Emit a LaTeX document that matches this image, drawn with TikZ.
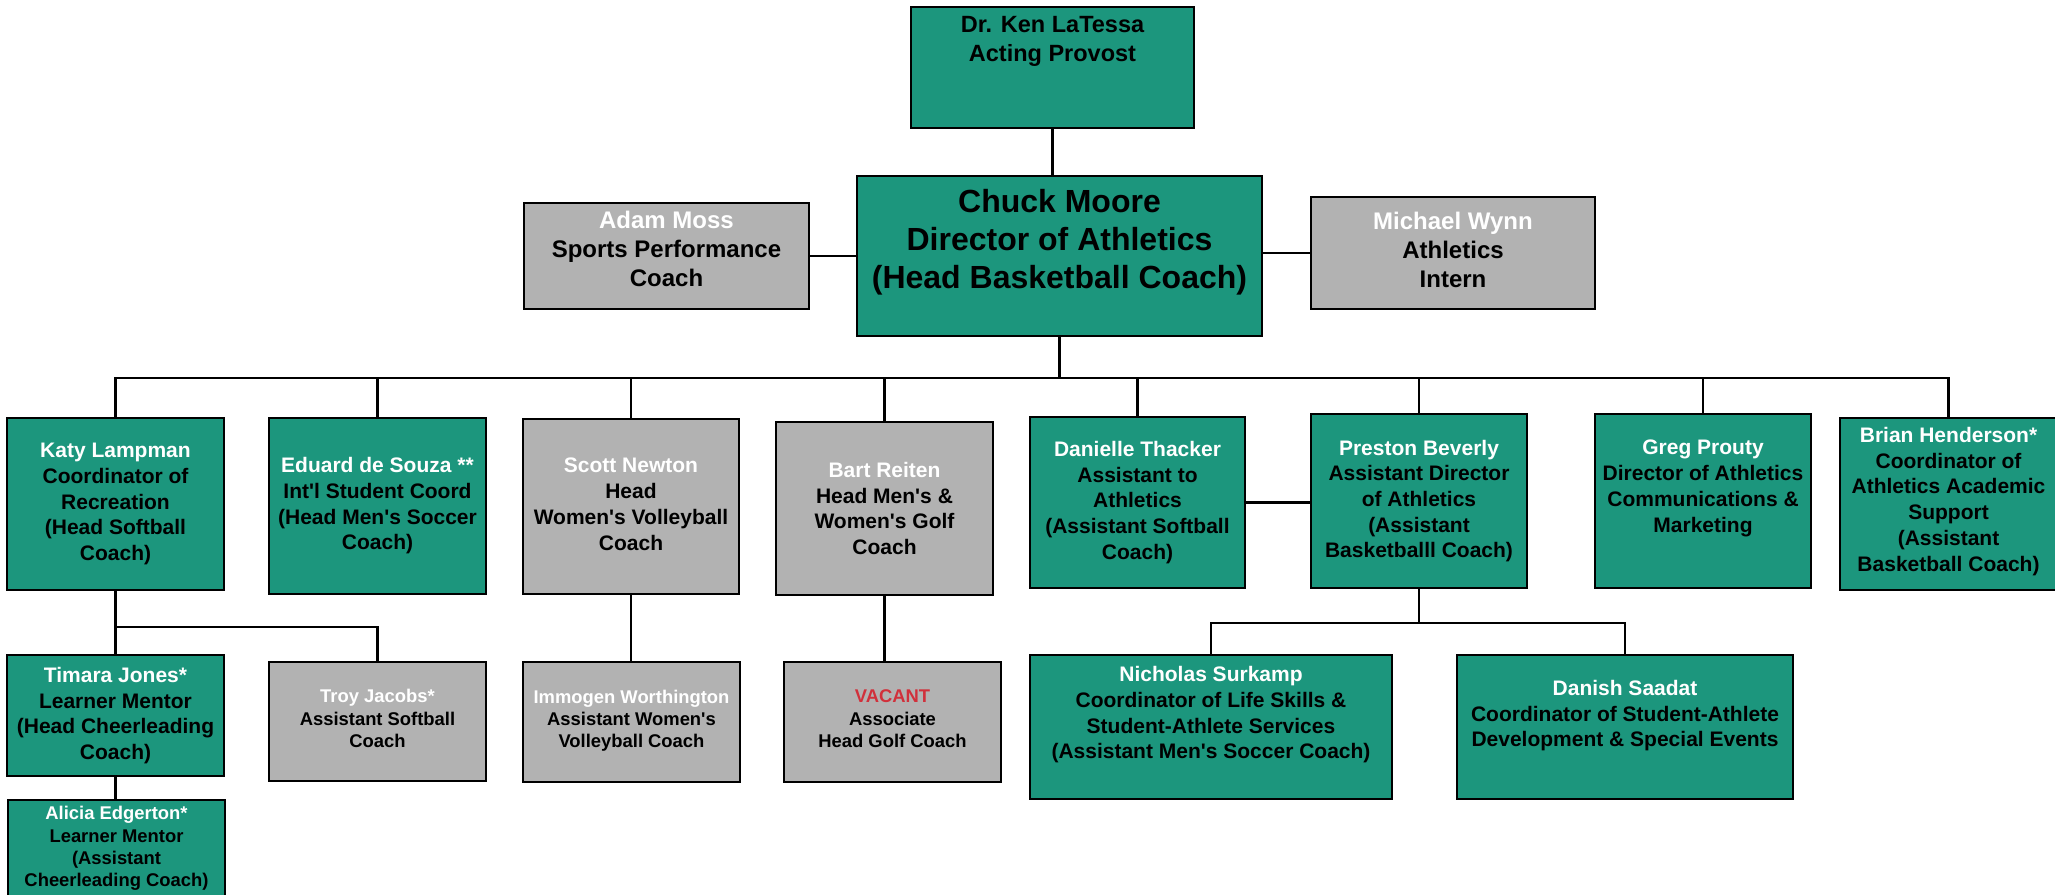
\documentclass[tikz,border=0pt]{standalone}
\usepackage{fontspec}
\setmainfont{Liberation Sans}[Ligatures=TeXOff]
\usetikzlibrary{positioning}
\definecolor{tealbox}{HTML}{1C967D}
\definecolor{greybox}{HTML}{B2B2B2}
\definecolor{vacred}{HTML}{D1303B}
\newcommand{\nm}[1]{\textcolor{white}{#1}}
\newcommand{\lift}[1]{\\[#1]\mbox{}}

\begin{document}
\begin{tikzpicture}[x=1pt, y=-1pt,
	box/.style={rectangle, draw=black, line width=2.6pt, align=center, inner sep=1pt, font=\bfseries\fontsize{21}{25.7}\selectfont},
	gbox/.style={box, fill=tealbox},
	sbox/.style={box, fill=greybox},
	dims/.style 2 args={minimum width=#1, minimum height=#2},
	fbig/.style={font=\bfseries\fontsize{32}{38}\selectfont},
	ftop/.style={font=\bfseries\fontsize{23.5}{29}\selectfont},
	fside/.style={font=\bfseries\fontsize{24}{29}\selectfont},
	fsmall/.style={font=\bfseries\fontsize{18.4}{22.3}\selectfont},
	conn/.style={draw=black, line width=2.2pt}]
\useasboundingbox (0,0) rectangle (2055,894);

\node[gbox, ftop, dims={283}{121}] (ken) at (1052.5,67.5) {Dr. Ken LaTessa\\Acting Provost\lift{29pt}};
\node[gbox, fbig, dims={405}{160}] (chuck) at (1059.5,256) {Chuck Moore\\Director of Athletics\\(Head Basketball Coach)\lift{-3pt}};
\node[sbox, fside, dims={285}{106}] (adam) at (666.5,256) {\nm{Adam Moss}\\Sports Performance\\Coach\lift{-15pt}};
\node[sbox, fside, dims={284}{112}] (michael) at (1453,253) {\nm{Michael Wynn}\\Athletics\\Intern\lift{-23pt}};

\node[gbox, dims={217}{172}] (katy) at (115.5,504) {\nm{Katy Lampman}\\Coordinator of\\Recreation\\(Head Softball\\Coach)};
\node[gbox, dims={217}{176}] (eduard) at (377.5,506) {\nm{Eduard de Souza **}\\Int'l Student Coord\\(Head Men's Soccer\\Coach)};
\node[sbox, dims={216}{175}] (scott) at (631,506.5) {\nm{Scott Newton}\\Head\\Women's Volleyball\\Coach\lift{-21pt}};
\node[sbox, dims={217}{173}] (bart) at (884.5,508.5) {\nm{Bart Reiten}\\Head Men's \&\\Women's Golf\\Coach};
\node[gbox, dims={215}{171}] (danielle) at (1137.5,502.5) {\nm{Danielle Thacker}\\Assistant to\\Athletics\\(Assistant Softball\\Coach)};
\node[gbox, dims={216}{174}] (preston) at (1419,501) {\nm{Preston Beverly}\\Assistant Director\\of Athletics\\(Assistant\\Basketballl Coach)};
\node[gbox, dims={216}{174}] (greg) at (1703,501) {\nm{Greg Prouty}\\Director of Athletics\\Communications \&\\Marketing\lift{4pt}};
\node[gbox, dims={217}{172}] (brian) at (1948.5,504) {\nm{Brian Henderson*}\\Coordinator of\\Athletics Academic\\Support\\(Assistant\\Basketball Coach)\lift{-16pt}};

\node[gbox, dims={217}{121}] (timara) at (115.5,715.5) {\nm{Timara Jones*}\\Learner Mentor\\(Head Cheerleading\\Coach)};
\node[gbox, fsmall, dims={217}{97}] (alicia) at (116.5,848.5) {\nm{Alicia Edgerton*}\\Learner Mentor\\(Assistant\\Cheerleading Coach)};
\node[sbox, fsmall, dims={217}{119}] (troy) at (377.5,721.5) {\nm{Troy Jacobs*}\\Assistant Softball\\Coach\lift{-16pt}};
\node[sbox, fsmall, dims={217}{120}] (immogen) at (631.5,722) {\nm{Immogen Worthington}\\Assistant Women's\\Volleyball Coach\lift{-16pt}};
\node[sbox, fsmall, dims={217}{120}] (vacant) at (892.5,722) {\textcolor{vacred}{VACANT}\\Associate\\Head Golf Coach\lift{-16pt}};
\node[gbox, dims={362}{144}] (nicholas) at (1211,727) {\nm{Nicholas Surkamp}\\Coordinator of Life Skills \&\\Student-Athlete Services\\(Assistant Men's Soccer Coach)\lift{3pt}};
\node[gbox, dims={336}{144}] (danish) at (1625,727) {\nm{Danish Saadat}\\Coordinator of Student-Athlete\\Development \& Special Events\lift{1pt}};

\draw[conn] (ken.south) -- (ken.south |- chuck.north);
\draw[conn] (adam.east) -- (adam.east -| chuck.west);
\draw[conn] (michael.west) -- (michael.west -| chuck.east);
\foreach \n in {katy,eduard,scott,bart,danielle,preston,greg,brian}
	\draw[conn] (chuck.south) -- ++(0,41) -| (\n.north);
\draw[conn] (danielle.east) -- (danielle.east -| preston.west);
\foreach \n in {timara,troy}
	\draw[conn] (katy.south) -- ++(0,36) -| (\n.north);
\draw[conn] (timara.south) -- (timara.south |- alicia.north);
\draw[conn] (scott.south) -- (scott.south |- immogen.north);
\draw[conn] (bart.south) -- (bart.south |- vacant.north);
\foreach \n in {nicholas,danish}
	\draw[conn] (preston.south) -- ++(0,34) -| (\n.north);
\end{tikzpicture}
\end{document}
